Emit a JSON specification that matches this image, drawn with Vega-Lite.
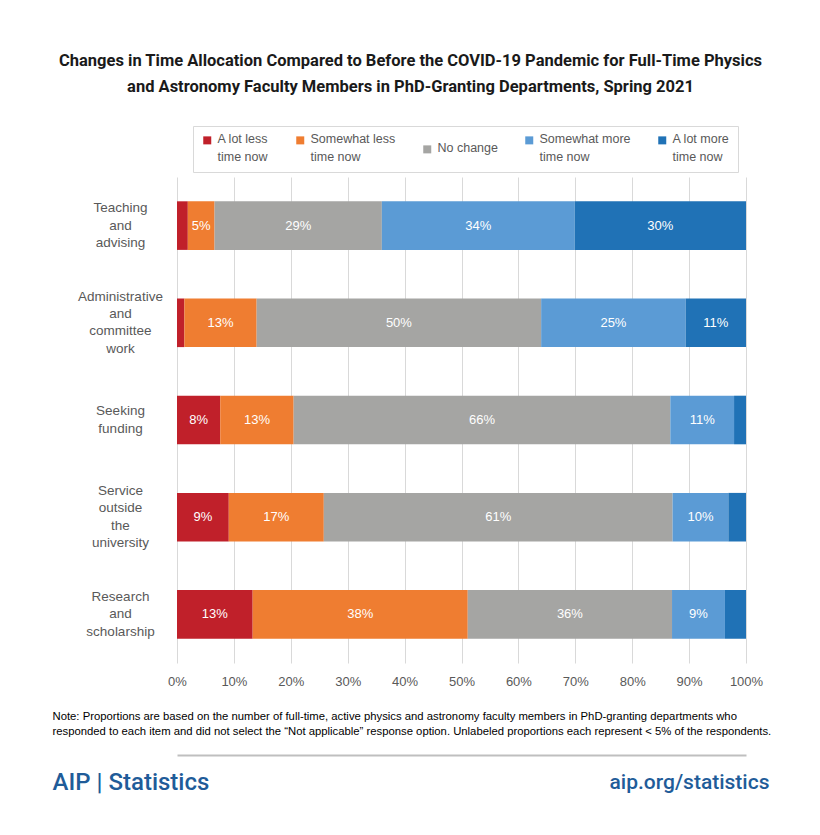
{
  "$schema": "https://vega.github.io/schema/vega-lite/v6.json",
  "width": 569,
  "height": 486,
  "autosize": {"type": "none"},
  "padding": {"left": 177, "top": 177, "right": 74, "bottom": 172},
  "background": "white",
  "config": {"view": {"stroke": null}, "font": "Liberation Sans"},
  "title": {
    "text": ["Changes in Time Allocation Compared to Before the COVID-19 Pandemic for Full-Time Physics", "and Astronomy Faculty Members in PhD-Granting Departments, Spring 2021"],
    "font": "Roboto",
    "fontSize": 16.5,
    "fontWeight": "bold",
    "color": "#1a1a1a",
    "anchor": "middle",
    "dx": -51,
    "lineHeight": 26,
    "offset": 30
  },
  "data": {"values": [
    {"item": "Teaching and advising", "response": "A lot less time now", "k": 1, "value": 0.019},
    {"item": "Teaching and advising", "response": "Somewhat less time now", "k": 2, "value": 0.047},
    {"item": "Teaching and advising", "response": "No change", "k": 3, "value": 0.294},
    {"item": "Teaching and advising", "response": "Somewhat more time now", "k": 4, "value": 0.339},
    {"item": "Teaching and advising", "response": "A lot more time now", "k": 5, "value": 0.301},
    {"item": "Administrative and committee work", "response": "A lot less time now", "k": 1, "value": 0.013},
    {"item": "Administrative and committee work", "response": "Somewhat less time now", "k": 2, "value": 0.127},
    {"item": "Administrative and committee work", "response": "No change", "k": 3, "value": 0.500},
    {"item": "Administrative and committee work", "response": "Somewhat more time now", "k": 4, "value": 0.254},
    {"item": "Administrative and committee work", "response": "A lot more time now", "k": 5, "value": 0.106},
    {"item": "Seeking funding", "response": "A lot less time now", "k": 1, "value": 0.076},
    {"item": "Seeking funding", "response": "Somewhat less time now", "k": 2, "value": 0.129},
    {"item": "Seeking funding", "response": "No change", "k": 3, "value": 0.662},
    {"item": "Seeking funding", "response": "Somewhat more time now", "k": 4, "value": 0.112},
    {"item": "Seeking funding", "response": "A lot more time now", "k": 5, "value": 0.021},
    {"item": "Service outside the university", "response": "A lot less time now", "k": 1, "value": 0.091},
    {"item": "Service outside the university", "response": "Somewhat less time now", "k": 2, "value": 0.167},
    {"item": "Service outside the university", "response": "No change", "k": 3, "value": 0.613},
    {"item": "Service outside the university", "response": "Somewhat more time now", "k": 4, "value": 0.098},
    {"item": "Service outside the university", "response": "A lot more time now", "k": 5, "value": 0.031},
    {"item": "Research and scholarship", "response": "A lot less time now", "k": 1, "value": 0.133},
    {"item": "Research and scholarship", "response": "Somewhat less time now", "k": 2, "value": 0.378},
    {"item": "Research and scholarship", "response": "No change", "k": 3, "value": 0.359},
    {"item": "Research and scholarship", "response": "Somewhat more time now", "k": 4, "value": 0.093},
    {"item": "Research and scholarship", "response": "A lot more time now", "k": 5, "value": 0.037}
  ]},
  "layer": [
    {
      "mark": {"type": "bar"},
      "encoding": {
        "y": {
          "field": "item", "type": "nominal",
          "sort": ["Teaching and advising", "Administrative and committee work", "Seeking funding", "Service outside the university", "Research and scholarship"],
          "scale": {"paddingInner": 0.5, "paddingOuter": 0.25},
          "axis": {
            "labelExpr": "split(datum.label, ' ')",
            "labelAlign": "center",
            "labelBaseline": "middle",
            "labelPadding": 57,
            "labelFontSize": 13.5,
            "labelColor": "#595959",
            "labelLineHeight": 17.3,
            "labelLimit": 200,
            "labelOffset": {
              "condition": [
                {"test": "datum.value == 'Teaching and advising' || datum.value == 'Research and scholarship'", "value": -17.3},
                {"test": "datum.value == 'Seeking funding'", "value": -8.65}
              ],
              "value": -26
            },
            "ticks": false, "domain": false, "grid": false,
            "title": "AIP | Statistics",
            "titleAngle": 0,
            "titleX": -125,
            "titleY": 605,
            "titleAlign": "left",
            "titleBaseline": "middle",
            "titleFont": "Roboto",
            "titleFontSize": 24,
            "titleFontWeight": 500,
            "titleColor": "#1F5C99"
          }
        },
        "x": {
          "field": "value", "type": "quantitative", "stack": "zero",
          "scale": {"domain": [0, 1]},
          "axis": {
            "format": ".0%",
            "values": [0, 0.1, 0.2, 0.3, 0.4, 0.5, 0.6, 0.7, 0.8, 0.9, 1],
            "grid": true, "gridColor": "#D9D9D9", "gridWidth": 1,
            "ticks": false, "domain": false,
            "labelPadding": 12,
            "labelFontSize": 13,
            "labelColor": "#595959",
            "labelFlush": false,
            "title": ["Note: Proportions are based on the number of full-time, active physics and astronomy faculty members in PhD-granting departments who", "responded to each item and did not select the \u201cNot applicable\u201d response option. Unlabeled proportions each represent < 5% of the respondents."],
            "titleX": -125,
            "titleY": 47,
            "titleAlign": "left",
            "titleAnchor": "start",
            "titleBaseline": "top",
            "titleFont": "Liberation Sans",
            "titleFontSize": 11.3,
            "titleFontWeight": "normal",
            "titleColor": "#000000",
            "titleLineHeight": 15,
            "titleLimit": 1000
          }
        },
        "color": {
          "field": "response", "type": "nominal",
          "scale": {
            "domain": ["A lot less time now", "Somewhat less time now", "No change", "Somewhat more time now", "A lot more time now"],
            "range": ["#C0202A", "#EF7D31", "#A5A5A3", "#5B9BD5", "#2072B6"]
          },
          "legend": {
            "orient": "none",
            "legendX": 16,
            "legendY": -51,
            "direction": "horizontal",
            "columns": 5,
            "columnPadding": 25,
            "title": null,
            "symbolType": "square",
            "symbolSize": 64,
            "symbolStrokeWidth": 0,
            "labelExpr": "indexof(datum.label, ' time now') > 0 ? [replace(datum.label, ' time now', ''), 'time now'] : datum.label",
            "labelFontSize": 12.5,
            "labelColor": "#595959",
            "labelBaseline": "top",
            "labelOffset": 4,
            "labelLimit": 200,
            "padding": 8,
            "strokeColor": "#D9D9D9",
            "encode": {"labels": {"update": {"dy": {"value": -7}, "lineHeight": {"value": 18}}}}
          }
        },
        "order": {"field": "k", "type": "quantitative"}
      }
    },
    {
      "mark": {"type": "text", "color": "white", "fontSize": 13, "align": "center", "baseline": "middle"},
      "encoding": {
        "y": {
          "field": "item", "type": "nominal",
          "sort": ["Teaching and advising", "Administrative and committee work", "Seeking funding", "Service outside the university", "Research and scholarship"],
          "axis": {
            "orient": "right",
            "labels": false, "ticks": false, "domain": false, "grid": false,
            "title": "aip.org/statistics",
            "titleAngle": 0,
            "titleX": 23,
            "titleY": 605,
            "titleAlign": "right",
            "titleBaseline": "middle",
            "titleFont": "Roboto",
            "titleFontSize": 21,
            "titleFontWeight": 500,
            "titleColor": "#1F5C99"
          }
        },
        "x": {
          "field": "value", "type": "quantitative", "stack": "zero", "bandPosition": 0.5,
          "axis": {
            "orient": "bottom",
            "offset": 92,
            "labels": false, "ticks": false, "grid": false,
            "domain": true, "domainColor": "#BFBFBF", "domainWidth": 2,
            "title": null
          }
        },
        "detail": {"field": "response"},
        "order": {"field": "k", "type": "quantitative"},
        "text": {"field": "value", "type": "quantitative", "format": ".0%"},
        "opacity": {"condition": {"test": "datum.value < 0.045", "value": 0}, "value": 1}
      }
    }
  ],
  "resolve": {"axis": {"x": "independent", "y": "independent"}}
}
